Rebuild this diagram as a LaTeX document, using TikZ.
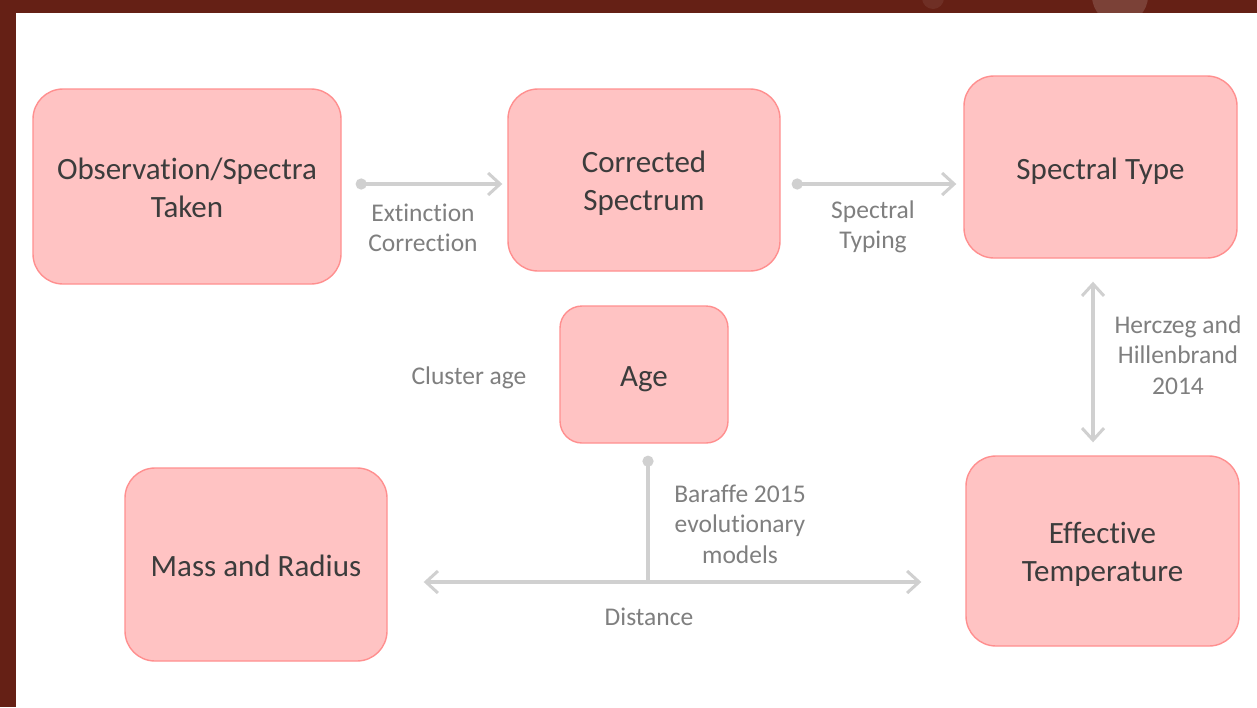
\documentclass[tikz,border=0pt]{standalone}
\usepackage{fontspec}
\setmainfont{Carlito}[RawFeature={-liga,-clig,-calt,-dlig}]
\usetikzlibrary{arrows.meta}
\definecolor{frame}{HTML}{652015}
\definecolor{boxfill}{HTML}{FFC3C3}
\definecolor{boxline}{HTML}{FF8F8F}
\definecolor{boxtext}{HTML}{3C3C3C}
\definecolor{labtext}{HTML}{7F7F7F}
\definecolor{conncol}{HTML}{D0D0D0}
\tikzset{
  box/.style={rectangle, rounded corners=30pt, draw=boxline, fill=boxfill, line width=1.4pt, inner sep=0pt},
  boxlab/.style={text=boxtext, align=center, font=\fontsize{31}{38}\selectfont, inner sep=0pt},
  lab/.style={text=labtext, align=center, font=\fontsize{25.5}{30.5}\selectfont, inner sep=0pt},
  conn/.style={draw=conncol, line width=3.5pt},
  barb/.tip={Straight Barb[length=12pt,width=22pt,line width=3pt]},
  dot/.tip={Circle[length=11pt]}
}
\begin{document}
\begin{tikzpicture}[x=1pt,y=-1pt]
\useasboundingbox (0,0) rectangle (1257,707);
\fill[frame] (0,0) rectangle (1257,707);
\begin{scope}
\clip (0,0) rectangle (1257,13);
\fill[white, opacity=0.15] (1120,-4) circle[radius=28pt];
\fill[white, opacity=0.07] (933,-2) circle[radius=11pt];
\end{scope}
\fill[white] (16,13) rectangle (1257,707);

\node[box, minimum width=308pt, minimum height=195pt,
  label={[boxlab, yshift=-1pt]center:Observation/Spectra\\Taken}] (b1) at (187,186.5) {};
\node[box, minimum width=272pt, minimum height=182pt,
  label={[boxlab, yshift=-3pt]center:Corrected\\Spectrum}] (b2) at (644,180) {};
\node[box, minimum width=273pt, minimum height=182pt,
  label={[boxlab, yshift=-4pt]center:Spectral Type}] (b3) at (1100.5,167) {};
\node[box, rounded corners=22pt, minimum width=168pt, minimum height=137pt,
  label={[boxlab, yshift=-5pt]center:Age}] (b4) at (644,374.5) {};
\node[box, minimum width=262pt, minimum height=193pt,
  label={[boxlab, yshift=-1pt]center:Mass and Radius}] (b5) at (256,564.5) {};
\node[box, minimum width=273pt, minimum height=190pt,
  label={[boxlab, yshift=-3pt]center:Effective\\Temperature}] (b6) at (1102.5,551) {};

\draw[conn, dot-barb] ([xshift=14pt,yshift=2.5pt]b1.east) -- ([xshift=-5pt,yshift=-4pt]b2.west);
\draw[conn, dot-barb] ([xshift=11pt,yshift=-4pt]b2.east) -- ([xshift=-7pt,yshift=-17pt]b3.west);
\draw[conn, barb-barb] ([xshift=-7.5pt,yshift=-23pt]b3.south) -- ([xshift=-9.5pt,yshift=13pt]b6.north);
\coordinate (j) at (648,582);
\draw[conn, barb-barb] ([xshift=36pt,yshift=-17.5pt]b5.east) -- ([xshift=-44pt,yshift=-31pt]b6.west);
\draw[conn, dot-] ([xshift=4pt,yshift=-12pt]b4.south) -- (j);

\node[lab] (l1) at (423,228) {Extinction\\Correction};
\node[lab] (l2) at (873,227) {Spectral\\Typing};
\node[lab] (l3) at (1178,355) {Herczeg and\\Hillenbrand\\2014};
\node[lab] (l4) at (469,378) {Cluster age};
\node[lab] (l5) at (740,524) {Baraffe 2015\\evolutionary\\models};
\node[lab] (l6) at (649,617) {Distance};
\end{tikzpicture}
\end{document}
